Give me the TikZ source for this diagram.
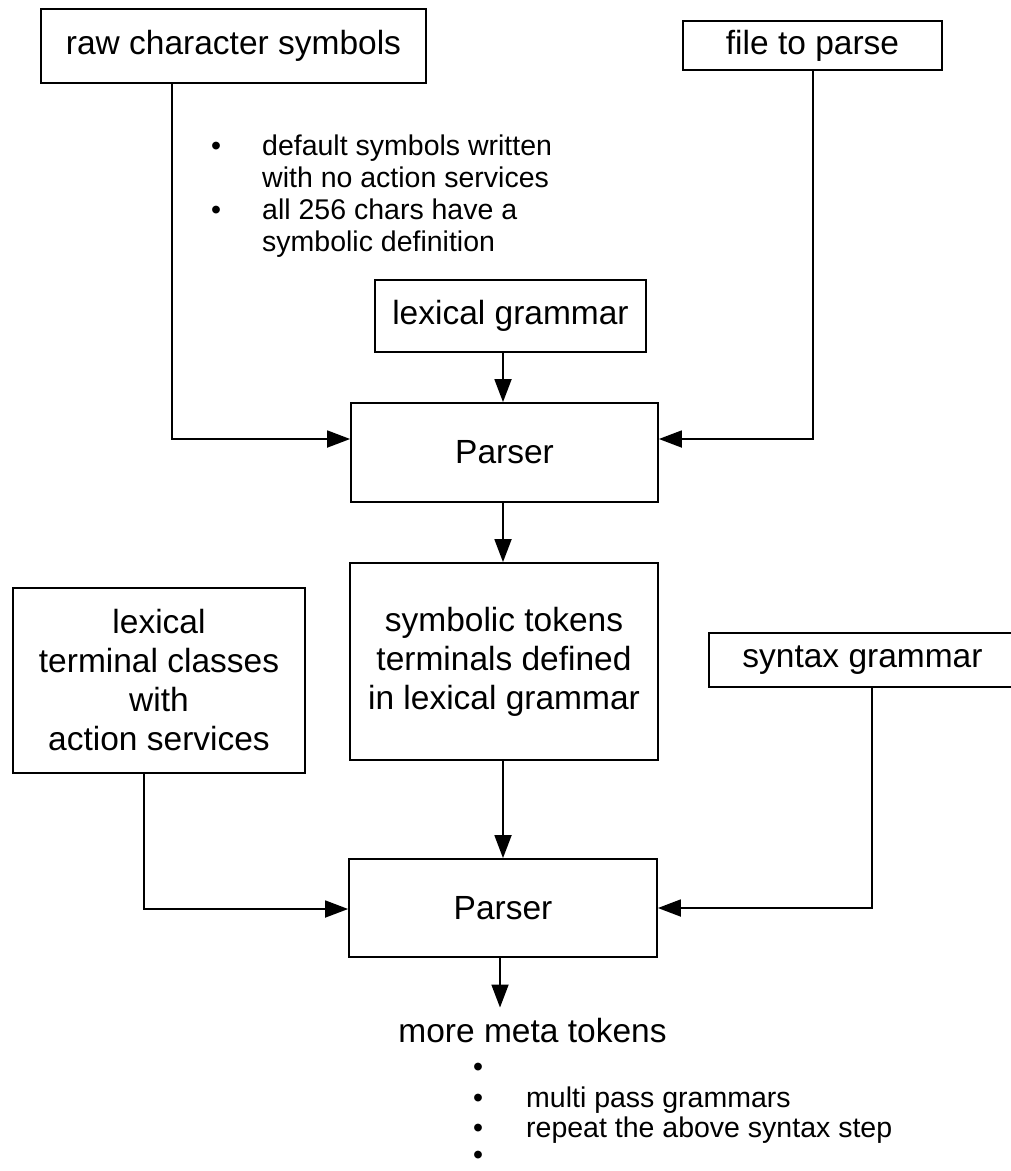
\documentclass[tikz,border=0pt]{standalone}
\usepackage{fontspec}
\setmainfont{Liberation Sans}
\usetikzlibrary{arrows.meta}
\newcommand{\boxfont}{\fontsize{33.5}{39}\selectfont}
\newcommand{\notefont}{\fontsize{28.5}{32}\selectfont}
\begin{document}
\begin{tikzpicture}[x=1pt,y=-1pt,
  box/.style={draw, line width=1.8pt, inner sep=0pt, align=center, font=\boxfont},
  wire/.style={line width=1.8pt},
  link/.style={wire, -{Triangle[length=23pt,width=17pt]}},
  note/.style={inner sep=0pt, anchor=base west, font=\notefont}]
\useasboundingbox (0,0) rectangle (1011,1171);
\clip (0,0) rectangle (1011,1171);

% inputs of the lexical pass
\node[box, minimum width=385pt, minimum height=74pt] (raw) at (233.5,46) {raw character symbols};
\node[box, minimum width=259pt, minimum height=49pt] (file) at (812.5,45.5) {file to parse};
\node[box, minimum width=271pt, minimum height=72pt] (lexgram) at (510.5,316) {lexical grammar};
\node[note] (rawnotes) at (211,155) {%
  \begin{tabular}[t]{@{}l@{}l@{}}
  \makebox[51pt][l]{\textbullet} & default symbols written\\
   & with no action services\\
  \textbullet & all 256 chars have a\\
   & symbolic definition
  \end{tabular}};

% lexical pass
\node[box, minimum width=307pt, minimum height=99pt] (p1) at (504.5,452.5) {Parser};
\node[box, minimum width=308pt, minimum height=197pt] (sym) at (504,661.5)
  {symbolic tokens\\terminals defined\\in lexical grammar};

% inputs of the syntax pass
\node[box, minimum width=292pt, minimum height=185pt] (lexterm) at (159,680.5)
  {lexical\\terminal classes\\with\\action services};
\node[box, minimum width=307pt, minimum height=54pt] (syn) at (862.5,660) {syntax grammar};

% syntax pass
\node[box, minimum width=308pt, minimum height=98pt] (p2) at (503,908) {Parser};
\node[inner sep=0pt, anchor=base, font=\boxfont] (more) at (532.5,1042) {more meta tokens};

% list of further passes
\node[note] (b1) at (473,1076) {\textbullet};
\node[note] (b2) at (473,1107) {\textbullet};
\node[note] (b3) at (473,1137) {\textbullet};
\node[note] (b4) at (473,1164) {\textbullet};
\node[note] (s2) at (526,1107) {multi pass grammars};
\node[note] (s3) at (526,1137) {repeat the above syntax step};

% connector routing points
\coordinate (rawbend) at (172,439);
\coordinate (filebend) at (813,439);
\coordinate (lexbend) at (144,909);
\coordinate (synbend) at (872,908);
\coordinate (spine) at (503,0);
\coordinate (outx) at (500,0);

\draw[link] (raw.south -| rawbend) -- (rawbend) -- (rawbend -| p1.west);
\draw[link] (file.south -| filebend) -- (filebend) -- (filebend -| p1.east);
\draw[link] (lexgram.south -| spine) -- (p1.north -| spine);
\draw[link] (p1.south -| spine) -- (sym.north -| spine);
\draw[link] (sym.south -| spine) -- (p2.north -| spine);
\draw[link] (lexterm.south -| lexbend) -- (lexbend) -- (lexbend -| p2.west);
\draw[link] (syn.south -| synbend) -- (synbend) -- (synbend -| p2.east);
\draw[link] (p2.south -| outx) -- ([yshift=10pt]more.north -| outx);
\end{tikzpicture}
\end{document}
